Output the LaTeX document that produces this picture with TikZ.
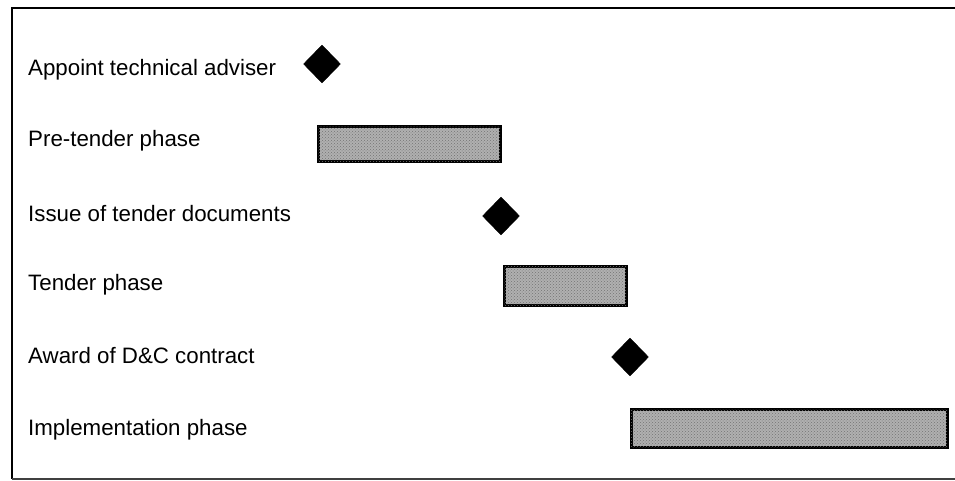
\documentclass[tikz,border=0pt]{standalone}
\usepackage{fontspec}
\setmainfont{Liberation Sans}
\usetikzlibrary{shapes.geometric,patterns}
\definecolor{barfill}{RGB}{176,176,176}
\begin{document}
\begin{tikzpicture}[x=1pt,y=-1pt,
  tasklabel/.style={anchor=west,inner sep=0pt,font=\fontsize{22.3}{26}\selectfont},
  milestone/.style={diamond,fill=black,draw=black,inner sep=0pt,minimum width=37pt,minimum height=38pt},
  phasebar/.style={rectangle,fill=barfill,draw=black,line width=3pt,inner sep=0pt,
    postaction={pattern=crosshatch dots,pattern color=black!55}}]
\useasboundingbox (0,0) rectangle (955,481);
% frame (open on the right)
\draw[line width=1.8pt] (955,8) -- (12,8) -- (12,479);
\draw[line width=1.4pt,black!75] (12,479) -- (955,479);

% task labels
\node[tasklabel] (l1) at (28,70) {Appoint technical adviser};
\node[tasklabel] (l2) at (28,141) {Pre-tender phase};
\node[tasklabel] (l3) at (28,214) {Issue of tender documents};
\node[tasklabel] (l4) at (28,285) {Tender phase};
\node[tasklabel] (l5) at (28,356) {Award of D\&C contract};
\node[tasklabel] (l6) at (28,430) {Implementation phase};

% milestones
\node[milestone] (m1) at (322,64) {};
\node[milestone] (m2) at (501,216) {};
\node[milestone] (m3) at (630,357) {};

% phases
\node[phasebar,minimum width=182pt,minimum height=35pt] (p1) at (409,144.5) {};
\node[phasebar,minimum width=122pt,minimum height=39pt] (p2) at (565,285.5) {};
\node[phasebar,minimum width=316pt,minimum height=38pt] (p3) at (789,428) {};
\end{tikzpicture}
\end{document}
